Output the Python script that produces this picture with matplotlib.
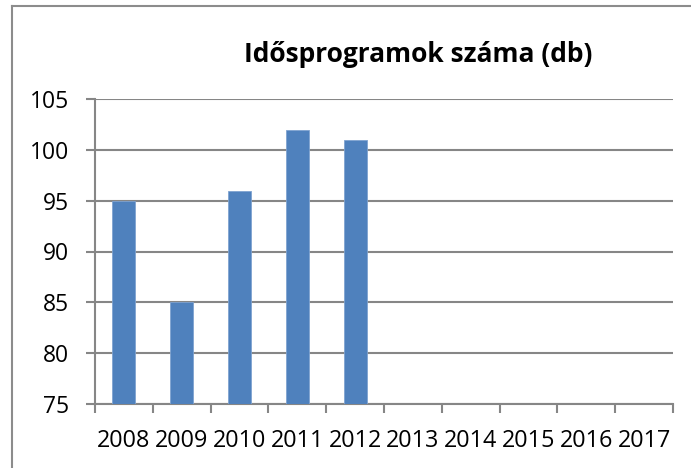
import numpy as np
import matplotlib.pyplot as plt
from matplotlib.lines import Line2D

years = ['2008', '2009', '2010', '2011', '2012', '2013', '2014', '2015', '2016', '2017']
values = [95, 85, 96, 102, 101, np.nan, np.nan, np.nan, np.nan, np.nan]
title = 'Idősprogramok száma (db)'

plt.rcParams['font.family'] = ['Open Sans', 'DejaVu Sans']

W, H = 691, 468
fig = plt.figure(figsize=(W / 100, H / 100), dpi=100)
ax = fig.add_axes([95 / W, 1 - 404 / H, (673 - 95) / W, (404 - 99) / H])

grey = '#868686'
x = np.arange(len(years))
heights = [v - 75 if not np.isnan(v) else 0 for v in values]
ax.bar(x, heights, bottom=75, width=0.4, color='#4F81BD', edgecolor='#7FA3D0', linewidth=0.6, zorder=3)

ax.set_xlim(-0.5, len(years) - 0.5)
ax.set_ylim(75, 105)
ax.set_yticks(range(75, 106, 5))
ax.yaxis.grid(True, color=grey, linewidth=1.5)
ax.set_axisbelow(True)

ax.set_xticks(x)
ax.set_xticklabels(years)
ax.set_xticks(np.arange(-0.5, len(years)), minor=True)
ax.tick_params(axis='x', which='major', length=0, pad=18, labelsize=16.8)
ax.tick_params(axis='x', which='minor', length=6.5, width=1.5, color=grey)
ax.tick_params(axis='y', length=6.5, width=1.5, color=grey, pad=12, labelsize=16.5)

for s in ['top', 'right']:
    ax.spines[s].set_visible(False)
for s in ['left', 'bottom']:
    ax.spines[s].set_color(grey)
    ax.spines[s].set_linewidth(1.5)

fig.text(418 / W, 1 - 55 / H, title, ha='center', va='center', fontsize=19, fontweight='bold')

# chart area border (right and bottom edges fall outside the image)
fig.add_artist(Line2D([12 / W, 12 / W], [0, 1 - 6 / H], color='#8c8c8c', linewidth=1.5, transform=fig.transFigure))
fig.add_artist(Line2D([12 / W, 1], [1 - 6 / H, 1 - 6 / H], color='#8c8c8c', linewidth=1.5, transform=fig.transFigure))

fig.savefig('out.png', dpi=100)
